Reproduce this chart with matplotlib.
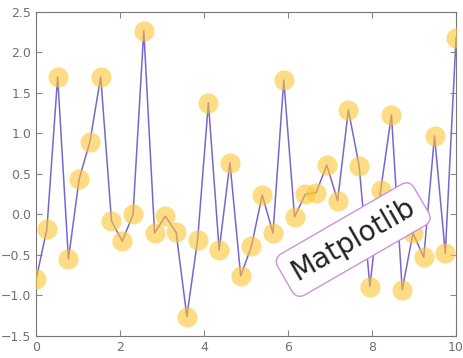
import numpy as np
import matplotlib
matplotlib.use("Agg")
import matplotlib.pyplot as plt

x = np.linspace(0, 10, 40)
y = [-0.80, -0.18, 1.70, -0.55, 0.44, 0.90, 1.70, -0.08, -0.33, 0.00,
     2.27, -0.23, -0.02, -0.22, -1.26, -0.31, 1.38, -0.44, 0.64, -0.76,
     -0.39, 0.24, -0.23, 1.66, -0.03, 0.25, 0.27, 0.61, 0.17, 1.29,
     0.60, -0.89, 0.30, 1.23, -0.93, -0.23, -0.53, 0.97, -0.48, 2.18]
xticks = [0, 2, 4, 6, 8, 10]
yticks = [-1.5, -1.0, -0.5, 0.0, 0.5, 1.0, 1.5, 2.0, 2.5]
label = "Matplotlib"

fig = plt.figure(figsize=(4.63, 3.58), dpi=100)
ax = fig.add_axes([0.078, 0.0615, 0.907, 0.905])
ax.plot(x, y, color='#7866d0', lw=1.1, zorder=2)
ax.plot(x, y, 'o', ms=14.5, color='#fcc534', alpha=0.6, mec='none', zorder=3)
ax.set_xlim(0, 10)
ax.set_ylim(-1.5, 2.5)
ax.set_xticks(xticks)
ax.set_yticks(yticks)
ax.set_xticklabels([str(t) for t in xticks])
ax.set_yticklabels([f"{t:.1f}".replace('-', '\u2212') for t in yticks])
ax.tick_params(direction='in', top=True, right=True, colors='#888888',
               labelcolor='#707070', labelsize=9, length=4)
for s in ax.spines.values():
    s.set_color('#777777')
    s.set_linewidth(0.8)
ax.text(7.55, -0.31, label, fontsize=20, rotation=30, ha='center', va='center',
        color='#222222', zorder=5,
        bbox=dict(boxstyle='round,pad=0.35', fc='white', ec='#d090d8', lw=1))
fig.savefig('out.png', dpi=100)
